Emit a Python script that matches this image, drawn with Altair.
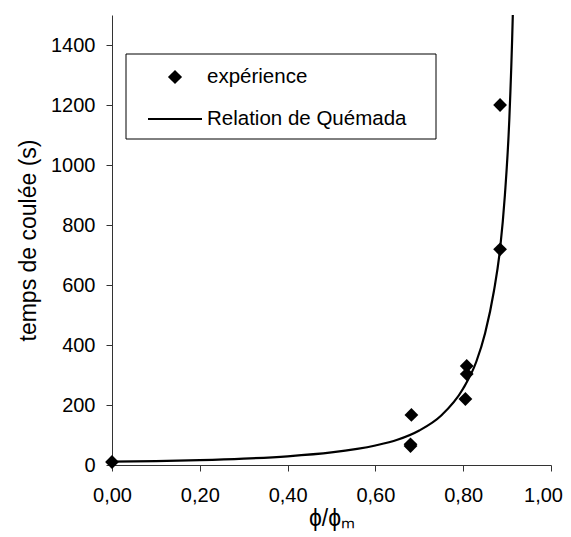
import altair as alt
import pandas as pd

# experimental points (phi/phi_m, flow time in s)
exp_x = [0.0, 0.68, 0.68, 0.682, 0.805, 0.808, 0.808, 0.884, 0.884]
exp_y = [10, 63, 69, 167, 220, 303, 330, 719, 1200]

# Quemada relation
fit_x = [0.0, 0.1, 0.2, 0.3, 0.4, 0.5, 0.6, 0.65, 0.7, 0.75, 0.8, 0.83, 0.85,
         0.87, 0.884, 0.895, 0.905, 0.913, 0.92]
fit_y = [11, 13, 16, 21, 29, 42, 65, 84, 115, 165, 255, 345, 440,
         580, 720, 900, 1150, 1500, 2000]

x_ticks = [0.0, 0.2, 0.4, 0.6, 0.8, 1.0]
y_ticks = [0, 200, 400, 600, 800, 1000, 1200, 1400]
legend_labels = ["expérience", "Relation de Quémada"]

FONT = "Liberation Sans"

exp_df = pd.DataFrame({"x": exp_x, "y": exp_y})
fit_df = pd.DataFrame({"x": fit_x, "y": fit_y})

xs = alt.Scale(domain=[0, 1], nice=False, zero=False)
ys = alt.Scale(domain=[0, 1500], nice=False)

x_axis = alt.Axis(
    values=x_ticks,
    labelExpr="replace(format(datum.value, '.2f'), '.', ',')",
    labelFlush=False,
    labelBound=False,
    labelOffset={"condition": {"test": "datum.value >= 1", "value": -8}, "value": 0},
    title="ϕ/ϕₘ",
    titlePadding=2,
)
y_axis = alt.Axis(
    values=y_ticks,
    labelExpr="format(datum.value, 'd')",
    labelFlush=False,
    title="temps de coulée (s)",
    titlePadding=10,
)

line = alt.Chart(fit_df).mark_line(
    color="black", strokeWidth=2.2, interpolate="monotone", clip=True
).encode(
    x=alt.X("x:Q", scale=xs, axis=x_axis),
    y=alt.Y("y:Q", scale=ys, axis=y_axis),
)

points = alt.Chart(exp_df).mark_point(
    shape="diamond", filled=True, color="black", size=190, opacity=1
).encode(
    x=alt.X("x:Q", scale=xs),
    y=alt.Y("y:Q", scale=ys),
)

# legend box drawn inside the plot
one = pd.DataFrame({"a": [0]})
box = alt.Chart(one).mark_rect(
    fill="white", stroke="black", strokeWidth=1
).encode(
    x=alt.value(14), x2=alt.value(324), y=alt.value(39), y2=alt.value(124)
)
leg_diamond = alt.Chart(one).mark_point(
    shape="diamond", filled=True, color="black", size=200, opacity=1
).encode(x=alt.value(63), y=alt.value(62))
leg_line = alt.Chart(one).mark_rule(color="black", strokeWidth=2).encode(
    x=alt.value(36), x2=alt.value(90), y=alt.value(104)
)
leg_text1 = alt.Chart(pd.DataFrame({"t": [legend_labels[0]]})).mark_text(
    align="left", baseline="middle", font=FONT, fontSize=20.5, color="black"
).encode(x=alt.value(95), y=alt.value(62), text="t:N")
leg_text2 = alt.Chart(pd.DataFrame({"t": [legend_labels[1]]})).mark_text(
    align="left", baseline="middle", font=FONT, fontSize=20.5, color="black"
).encode(x=alt.value(95), y=alt.value(104), text="t:N")

chart = alt.layer(
    line, points, box, leg_diamond, leg_line, leg_text1, leg_text2
).properties(
    width=439,
    height=450,
    autosize=alt.AutoSizeParams(type="none"),
    padding={"left": 104, "top": 7, "right": 12, "bottom": 70},
).configure_view(
    stroke=None
).configure_axis(
    grid=False,
    domainColor="#333333",
    tickColor="#333333",
    tickSize=6,
    labelFont=FONT,
    labelFontSize=20,
    labelColor="black",
    titleFont=FONT,
    titleFontSize=23,
    titleFontWeight="normal",
    titleColor="black",
).configure_axisX(
    labelPadding=14,
).configure_axisY(
    labelPadding=11,
)

chart.save("out.html", embed_options={"renderer": "svg", "actions": False})
